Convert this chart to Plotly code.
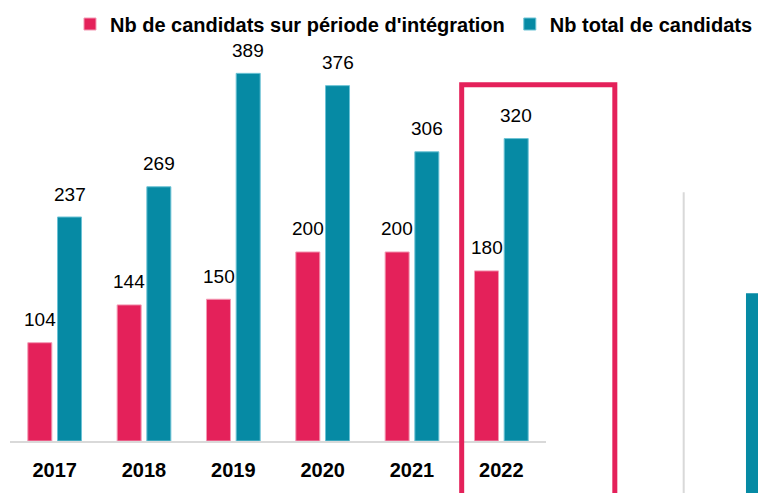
import plotly.graph_objects as go

years = ["2017", "2018", "2019", "2020", "2021", "2022"]
integration = [104, 144, 150, 200, 200, 180]
total = [237, 269, 389, 376, 306, 320]
series_names = ["Nb de candidats sur période d'intégration", "Nb total de candidats"]

PINK = "#E4215A"
TEAL = "#068AA4"
FONT = "Liberation Sans, Arial, sans-serif"

fig = go.Figure()
fig.add_trace(go.Bar(x=years, y=integration, name=series_names[0],
                     marker=dict(color=PINK, line=dict(color="#F39AB4", width=1))))
fig.add_trace(go.Bar(x=years, y=total, name=series_names[1],
                     marker=dict(color=TEAL, line=dict(color="#6CC3D5", width=1))))

anns = []
for i, v in enumerate(integration):
    anns.append(dict(x=i, y=v, xref="x", yref="y", text=str(v), showarrow=False,
                     xshift=-14.8, yshift=23, yanchor="middle",
                     font=dict(family=FONT, size=19, color="#000000")))
for i, v in enumerate(total):
    anns.append(dict(x=i, y=v, xref="x", yref="y", text=str(v), showarrow=False,
                     xshift=15, yshift=23, yanchor="middle",
                     font=dict(family=FONT, size=19, color="#000000")))

shapes = [
    # highlight box around 2022
    dict(type="rect", xref="paper", yref="paper", x0=0.8427, x1=1.1284, y0=-0.2, y1=0.8995,
         line=dict(color=PINK, width=5), fillcolor="rgba(0,0,0,0)", layer="above"),
    # separator line
    dict(type="line", xref="paper", yref="paper", x0=1.2569, x1=1.2569, y0=-0.2, y1=0.628,
         line=dict(color="#d9d9d9", width=2)),
    # cropped neighbour bar
    dict(type="rect", xref="paper", yref="paper", x0=1.3731, x1=1.42, y0=-0.2, y1=0.373,
         line=dict(width=0), fillcolor=TEAL),
]

fig.update_layout(
    width=758, height=493,
    margin=dict(l=10, r=212, t=45, b=52, autoexpand=False),
    plot_bgcolor="white", paper_bgcolor="white",
    barmode="group", bargap=0.335, bargroupgap=0.192,
    font=dict(family=FONT, color="#000000"),
    showlegend=True,
    legend=dict(orientation="h", x=1.3955, xanchor="right", y=1.053, yanchor="middle",
                font=dict(family=FONT, size=20, color="#000000", weight="bold"),
                traceorder="normal", bgcolor="rgba(0,0,0,0)"),
    xaxis=dict(type="category", range=[-0.5, 5.5], showline=True, linecolor="#d9d9d9",
               linewidth=2, showgrid=False, ticks="", ticklabelstandoff=10, automargin=False,
               tickfont=dict(family=FONT, size=20, color="#000000", weight="bold")),
    yaxis=dict(range=[0, 419.0], visible=False, showgrid=False, zeroline=False),
    annotations=anns,
    shapes=shapes,
)

fig.write_html("out.html", config={"displayModeBar": False},
               post_script="document.body.style.margin='0px';")
